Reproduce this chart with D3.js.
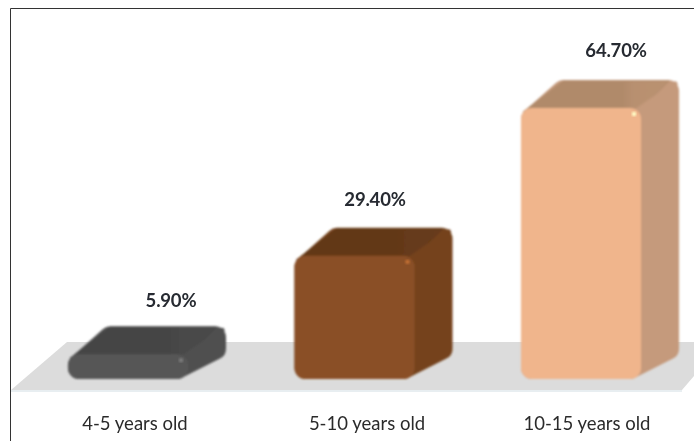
<!DOCTYPE html>
<html><head><meta charset="utf-8">
<script src="https://cdn.jsdelivr.net/npm/d3@7"></script>
<style>html,body{margin:0;padding:0;background:#fff}svg{display:block}text{font-family:Lato,"Open Sans",sans-serif}</style>
</head><body><div id="c"></div>
<script>
const categories = ["4-5 years old","5-10 years old","10-15 years old"];
const values = [5.9,29.4,64.7];
const valueLabels = ["5.90%","29.40%","64.70%"];
const frontColors = ["#575757","#8a4f25","#f0b58c"];
const topColors = ["#454545","#623819","#b08a6b"];
const sideColors = ["#505050","#74431f","#c59a7c"];
const labelDx = [43,20.5,35];
const labelDy = [4,1,0];
const categoryDx = [7,12.5,6];
const depthX = 38, depthY = 28;

const W=694,H=441;
const svg=d3.select("#c").append("svg").attr("width",W).attr("height",H);
const defs=svg.append("defs");
defs.append("filter").attr("id","soft").append("feGaussianBlur").attr("stdDeviation",0.8);
defs.append("filter").attr("id","spot").append("feGaussianBlur").attr("stdDeviation",1.2);
defs.append("filter").attr("id","txt").append("feGaussianBlur").attr("stdDeviation",0.3);

const x=d3.scaleBand().domain(categories).range([13.6,695.4]).paddingInner(0.47).paddingOuter(0.24);
const y=d3.scaleLinear().domain([0,64.7]).range([379,108]);

// frame
svg.append("path").attr("d",`M10.5,${H}V8.5H${W}`).attr("fill","none").attr("stroke","#333").attr("stroke-width",1);
// floor
svg.append("path").attr("d","M11,390L67,342H694V376L682,390Z").attr("fill","#dcdcdc");
svg.append("rect").attr("x",11).attr("y",390).attr("width",671).attr("height",2).attr("fill","#e8eef1");

categories.forEach((c,i)=>{
  const x0=x(c), bw=x.bandwidth(), x1=x0+bw, yb=y(0), yt=y(values[i]);
  const dx=depthX, dy=depthY, r=Math.min(11,(yb-yt)/2);
  const tg=defs.append("linearGradient").attr("id","tg"+i);
  const base=d3.color(topColors[i]);
  [[0,base],[.68,base],[.76,base.brighter(.12)],[1,base.brighter(.15)]].forEach(s=>
    tg.append("stop").attr("offset",s[0]).attr("stop-color",s[1]));
  const g=svg.append("g").attr("filter","url(#soft)");
  // side + silhouette
  g.append("path")
    .attr("d",`M${x0+r},${yt+r}L${x0+dx+r*.4},${yt-dy+r}H${x1+dx-r}V${yb-dy-r*.2}L${x1-r},${yb-r}H${x0+r}Z`)
    .attr("fill",sideColors[i]).attr("stroke",sideColors[i]).attr("stroke-width",2*r).attr("stroke-linejoin","round");
  // top face
  g.append("path")
    .attr("d",`M${x0+2},${yt+4}L${x0+dx+4},${yt-dy+1}H${x1+dx-10}L${x1-3},${yt+3}Z`)
    .attr("fill",`url(#tg${i})`).attr("stroke",topColors[i]).attr("stroke-width",1).attr("stroke-linejoin","round");
  // bevel on the top/right edge
  g.append("path")
    .attr("d",`M${x1-6},${yt+4}L${x1+dx-4},${yt-dy+4}`)
    .attr("stroke",sideColors[i]).attr("stroke-width",5).attr("stroke-linecap","round");
  // front
  g.append("rect").attr("x",x0).attr("y",yt).attr("width",bw).attr("height",yb-yt).attr("rx",r).attr("ry",r)
    .attr("fill",frontColors[i]);
  // highlight
  svg.append("circle").attr("cx",x1-7).attr("cy",yt+6).attr("r",2.2)
    .attr("fill",d3.color(frontColors[i]).brighter(1)).attr("filter","url(#spot)");
  // labels
  svg.append("text").attr("x",x0+bw/2+labelDx[i]).attr("y",yt-dy-23+labelDy[i])
    .attr("text-anchor","middle").attr("font-size",18.5).attr("font-weight",700).attr("letter-spacing",-0.2)
    .attr("fill","#262a30").attr("filter","url(#txt)").text(valueLabels[i]);
  svg.append("text").attr("x",x0+bw/2+categoryDx[i]).attr("y",430)
    .attr("text-anchor","middle").attr("font-size",18.5)
    .attr("fill","#2c2c2c").attr("filter","url(#txt)").text(c);
});
</script></body></html>
